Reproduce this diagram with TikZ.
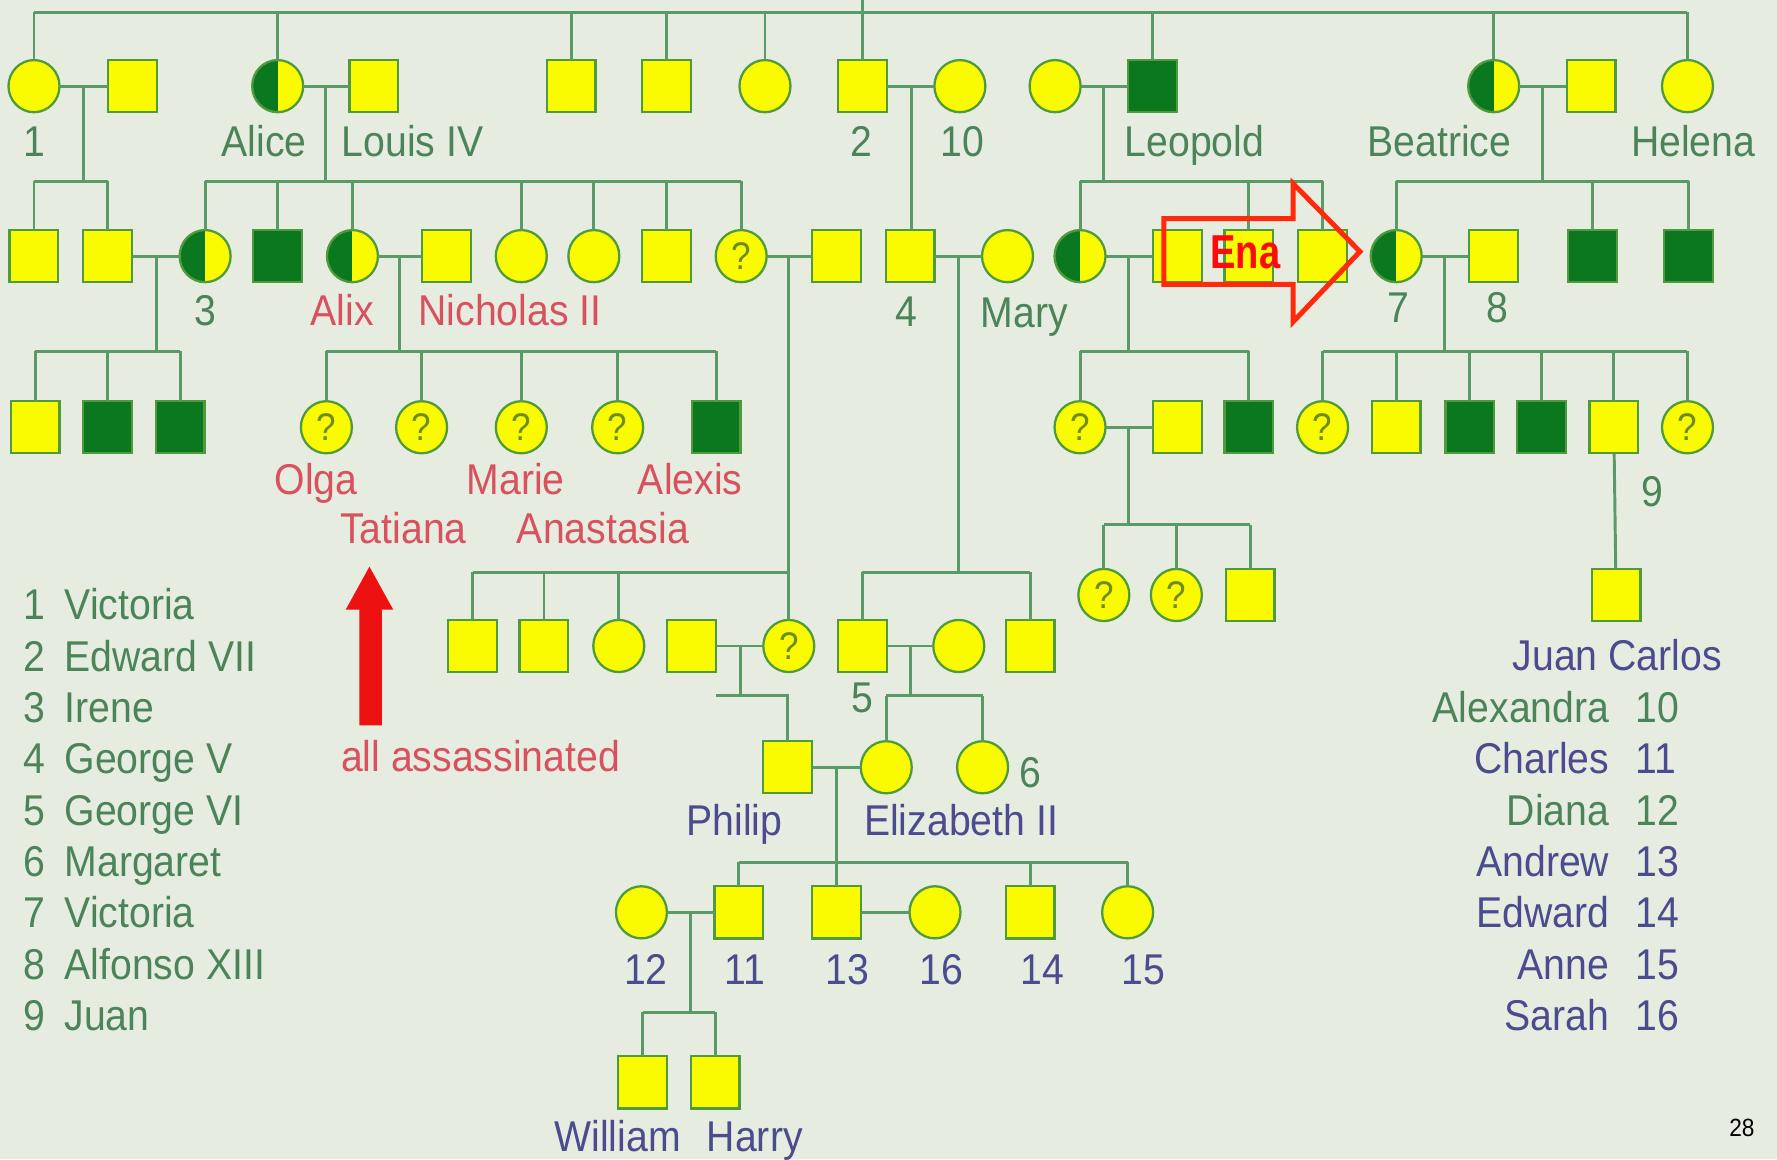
\documentclass[tikz,border=0pt]{standalone}
\usepackage{fontspec}
\setmainfont[FakeStretch=0.91]{Liberation Sans}
\newfontfamily\enafont[FakeStretch=0.8]{Liberation Sans}
\usetikzlibrary{calc,shapes.geometric}
\definecolor{bgc}{HTML}{E6EDE0}
\definecolor{linec}{HTML}{5A9A66}
\definecolor{symb}{HTML}{4E9A3C}
\definecolor{yel}{HTML}{FAFA00}
\definecolor{dkg}{HTML}{0B7820}
\definecolor{qmark}{HTML}{6E8C1E}
\definecolor{lgrn}{HTML}{4C8459}
\definecolor{lred}{HTML}{D9505E}
\definecolor{lblue}{HTML}{4B4B8F}
\definecolor{enared}{HTML}{FF2A0C}
\definecolor{enatext}{HTML}{FF0A0A}
\definecolor{arrred}{HTML}{EE1111}
\newcommand\lblsize{\fontsize{19}{22}\selectfont}
\begin{document}
\begin{tikzpicture}[x=0.5pt,y=-0.5pt,
  sym/.style={draw=symb,line width=1pt,inner sep=0pt,outer sep=0pt},
  male/.style={sym,rectangle,fill=yel,minimum width=21.5pt,minimum height=23pt},
  fem/.style={sym,ellipse,fill=yel,minimum width=22.5pt,minimum height=23pt},
  affm/.style={male,fill=dkg},
  carr/.style={fem,path picture={\fill[dkg] (path picture bounding box.south west) rectangle (path picture bounding box.north);}},
  unk/.style={fem,text=qmark,font=\fontsize{17}{17}\selectfont},
  ln/.style={draw=linec,line width=1.3pt},
  lbl/.style={inner sep=0pt,outer sep=0pt,anchor=base,font=\lblsize},
  glab/.style={lbl,text=lgrn},
  rlab/.style={lbl,text=lred},
  blab/.style={lbl,text=lblue}]

% page background
\fill[bgc] (0,0) rectangle (1568,1023);
\useasboundingbox (0,0) rectangle (1568,1023);

% ---------- generation 1 ----------
\node[fem]  (v1)   at (30,76)   {};
\node[male] (v1h)  at (117,76)  {};
\node[carr] (ali)  at (245,76)  {};
\node[male] (lou)  at (330,76)  {};
\node[male] (r1a)  at (504,76)  {};
\node[male] (r1b)  at (588,76)  {};
\node[fem]  (r1c)  at (675,76)  {};
\node[male] (ed7)  at (761,76)  {};
\node[fem]  (alx)  at (847,76)  {};
\node[fem]  (leow) at (931,76)  {};
\node[affm] (leo)  at (1017,76) {};
\node[carr] (bea)  at (1318,76) {};
\node[male] (beah) at (1404,76) {};
\node[fem]  (hel)  at (1489,76) {};

% ---------- generation 2 ----------
\node[male] (a1)   at (30,226)   {};
\node[male] (a2)   at (95,226)   {};
\node[carr] (ire)  at (181,226)  {};
\node[affm] (b2)   at (245,226)  {};
\node[carr] (alix) at (311,226)  {};
\node[male] (nic)  at (394,226)  {};
\node[fem]  (b4)   at (460,226)  {};
\node[fem]  (b5)   at (524,226)  {};
\node[male] (b6)   at (588,226)  {};
\node[unk]  (b7)   at (654,226)  {?};
\node[male] (b7h)  at (738,226)  {};
\node[male] (gv)   at (803,226)  {};
\node[fem]  (mary) at (889,226)  {};
\node[carr] (alb)  at (953,226)  {};
\node[male] (albh) at (1039,226) {};
\node[male] (c2)   at (1102,226) {};
\node[male] (c3)   at (1167,226) {};
\node[carr] (ena)  at (1232,226) {};
\node[male] (alf)  at (1318,226) {};
\node[affm] (d3)   at (1405,226) {};
\node[affm] (d4)   at (1490,226) {};

% ---------- generation 3 ----------
\node[male] (e1)   at (31,377)   {};
\node[affm] (e2)   at (95,377)   {};
\node[affm] (e3)   at (159,377)  {};
\node[unk]  (olga) at (288,377)  {?};
\node[unk]  (tat)  at (372,377)  {?};
\node[unk]  (mar)  at (460,377)  {?};
\node[unk]  (ana)  at (545,377)  {?};
\node[affm] (alexis) at (632,377) {};
\node[unk]  (f1)   at (953,377)  {?};
\node[male] (f1h)  at (1039,377) {};
\node[affm] (f3)   at (1102,377) {};
\node[unk]  (g1)   at (1167,377) {?};
\node[male] (g2)   at (1232,377) {};
\node[affm] (g3)   at (1297,377) {};
\node[affm] (g4)   at (1360,377) {};
\node[male] (juan) at (1424,377) {};
\node[unk]  (g6)   at (1489,377) {?};

% ---------- generation 4 ----------
\node[male] (h1)   at (417,570) {};
\node[male] (h2)   at (480,570) {};
\node[fem]  (h3)   at (546,570) {};
\node[male] (h4h)  at (610,570) {};
\node[unk]  (h4)   at (696,570) {?};
\node[male] (g6r)  at (761,570) {};
\node[fem]  (eliz) at (846,570) {};
\node[male] (h7)   at (909,570) {};
\node[unk]  (k1)   at (974,525)  {?};
\node[unk]  (k2)   at (1038,525) {?};
\node[male] (k3)   at (1103,525) {};
\node[male] (jc)   at (1426,525) {};

% ---------- generation 5 ----------
\node[male] (phil) at (695,677) {};
\node[fem]  (e2q)  at (782,677) {};
\node[fem]  (marg) at (867,677) {};

% ---------- generation 6 ----------
\node[fem]  (dia)  at (566,805) {};
\node[male] (cha)  at (652,805) {};
\node[male] (andr) at (738,805) {};
\node[fem]  (sar)  at (825,805) {};
\node[male] (edw)  at (909,805) {};
\node[fem]  (ann)  at (995,805) {};
\node[male] (wil)  at (567,955) {};
\node[male] (har)  at (631,955) {};

% ---------- sibship levels ----------
\coordinate (topy) at (0,11);
\coordinate (edge) at (761,0);
\coordinate (sA) at (0,160);
\coordinate (sB) at (0,310);
\coordinate (sC) at (0,505);
\coordinate (sD) at (0,463);
\coordinate (sE) at (0,614);
\coordinate (sF) at (0,761);
\coordinate (sG) at (0,893);
\coordinate (stub) at (632,614);

% Victoria's children
\draw[ln] (v1.north |- topy) -- (hel.north |- topy);
\foreach \k in {v1,ali,r1a,r1b,r1c,leo,bea,hel}
  \draw[ln] (\k.north |- topy) -- (\k.north);
\draw[ln] (edge) -- (ed7.north);

% couple 1
\draw[ln] (v1) -- (v1h);
\coordinate (jv1) at ($(v1)!0.5!(v1h)$);
\draw[ln] (jv1) -- (jv1 |- sA);
\draw[ln] (a1.north |- sA) -- (a2.north |- sA);
\foreach \k in {a1,a2} \draw[ln] (\k.north |- sA) -- (\k.north);

% Alice and Louis IV
\draw[ln] (ali) -- (lou);
\coordinate (jali) at ($(ali)!0.5!(lou)$);
\draw[ln] (jali) -- (jali |- sA);
\draw[ln] (ire.north |- sA) -- (b7.north |- sA);
\foreach \k in {ire,b2,alix,b4,b5,b6,b7} \draw[ln] (\k.north |- sA) -- (\k.north);

% Irene
\draw[ln] (a2) -- (ire);
\coordinate (jire) at ($(a2)!0.5!(ire)$);
\draw[ln] (jire) -- (jire |- sB);
\draw[ln] (e1.north |- sB) -- (e3.north |- sB);
\foreach \k in {e1,e2,e3} \draw[ln] (\k.north |- sB) -- (\k.north);

% Alix and Nicholas II
\draw[ln] (alix) -- (nic);
\coordinate (jalix) at ($(alix)!0.5!(nic)$);
\draw[ln] (jalix) -- (jalix |- sB);
\draw[ln] (olga.north |- sB) -- (alexis.north |- sB);
\foreach \k in {olga,tat,mar,ana,alexis} \draw[ln] (\k.north |- sB) -- (\k.north);

% Philip's grandparents
\draw[ln] (b7) -- (b7h);
\coordinate (jb7) at ($(b7)!0.5!(b7h)$);
\draw[ln] (jb7) -- (jb7 |- h4.north);
\draw[ln] (h1.north |- sC) -- (h4.north |- sC);
\foreach \k in {h1,h2,h3} \draw[ln] (\k.north |- sC) -- (\k.north);

% Edward VII
\draw[ln] (ed7) -- (alx);
\coordinate (jed) at ($(ed7)!0.5!(alx)$);
\draw[ln] (jed) -- (jed |- gv.north);

% George V and Mary
\draw[ln] (gv) -- (mary);
\coordinate (jgv) at ($(gv)!0.5!(mary)$);
\draw[ln] (jgv) -- (jgv |- sC);
\draw[ln] (g6r.north |- sC) -- (h7.north |- sC);
\foreach \k in {g6r,h7} \draw[ln] (\k.north |- sC) -- (\k.north);

% Philip's parents
\draw[ln] (h4h) -- (h4);
\coordinate (jh4) at ($(h4h)!0.5!(h4)$);
\draw[ln] (jh4) -- (jh4 |- sE);
\draw[ln] (stub) -- (phil.north |- sE) -- (phil.north);

% George VI
\draw[ln] (g6r) -- (eliz);
\coordinate (jg6) at ($(g6r)!0.5!(eliz)$);
\draw[ln] (jg6) -- (jg6 |- sE);
\draw[ln] (e2q.north |- sE) -- (marg.north |- sE);
\foreach \k in {e2q,marg} \draw[ln] (\k.north |- sE) -- (\k.north);

% Philip and Elizabeth II
\draw[ln] (phil) -- (e2q);
\coordinate (jph) at ($(phil)!0.5!(e2q)$);
\draw[ln] (jph) -- (jph |- andr.north);
\draw[ln] (cha.north |- sF) -- (ann.north |- sF);
\foreach \k in {cha,edw,ann} \draw[ln] (\k.north |- sF) -- (\k.north);

% Charles and Diana
\draw[ln] (dia) -- (cha);
\coordinate (jcha) at ($(dia)!0.5!(cha)$);
\draw[ln] (jcha) -- (jcha |- sG);
\draw[ln] (wil.north |- sG) -- (har.north |- sG);
\foreach \k in {wil,har} \draw[ln] (\k.north |- sG) -- (\k.north);

% Andrew and Sarah
\draw[ln] (andr) -- (sar);

% Leopold
\draw[ln] (leow) -- (leo);
\coordinate (jleo) at ($(leow)!0.5!(leo)$);
\draw[ln] (jleo) -- (jleo |- sA);
\draw[ln] (alb.north |- sA) -- (c3.north |- sA);
\foreach \k in {alb,c2,c3} \draw[ln] (\k.north |- sA) -- (\k.north);

\draw[ln] (alb) -- (albh);
\coordinate (jalb) at ($(alb)!0.5!(albh)$);
\draw[ln] (jalb) -- (jalb |- sB);
\draw[ln] (f1.north |- sB) -- (f3.north |- sB);
\foreach \k in {f1,f3} \draw[ln] (\k.north |- sB) -- (\k.north);

\draw[ln] (f1) -- (f1h);
\coordinate (jf1) at ($(f1)!0.5!(f1h)$);
\draw[ln] (jf1) -- (jf1 |- sD);
\draw[ln] (k1.north |- sD) -- (k3.north |- sD);
\foreach \k in {k1,k2,k3} \draw[ln] (\k.north |- sD) -- (\k.north);

% Beatrice
\draw[ln] (bea) -- (beah);
\coordinate (jbea) at ($(bea)!0.5!(beah)$);
\draw[ln] (jbea) -- (jbea |- sA);
\draw[ln] (ena.north |- sA) -- (d4.north |- sA);
\foreach \k in {ena,d3,d4} \draw[ln] (\k.north |- sA) -- (\k.north);

% Victoria Eugenie and Alfonso XIII
\draw[ln] (ena) -- (alf);
\coordinate (jena) at ($(ena)!0.5!(alf)$);
\draw[ln] (jena) -- (jena |- sB);
\draw[ln] (g1.north |- sB) -- (g6.north |- sB);
\foreach \k in {g1,g2,g3,g4,juan,g6} \draw[ln] (\k.north |- sB) -- (\k.north);
\draw[ln] (juan) -- (jc);

% ---------- labels ----------
\node[glab] (t1)   at (30,138)   {1};
\node[glab] (tali) at (233,138)  {Alice};
\node[glab] (tlou) at (364,138)  {Louis IV};
\node[glab] (t2)   at (760,138)  {2};
\node[glab] (t10)  at (849,138)  {10};
\node[glab] (tleo) at (1054,138) {Leopold};
\node[glab] (tbea) at (1270,138) {Beatrice};
\node[glab] (thel) at (1494,138) {Helena};

\node[glab] (t3)    at (181,287)  {3};
\node[rlab] (talix) at (302,287)  {Alix};
\node[rlab] (tnic)  at (450,287)  {Nicholas II};
\node[glab] (t4)    at (800,288)  {4};
\node[glab] (tmary) at (904,289)  {Mary};
\node[glab] (t7)    at (1234,285) {7};
\node[glab] (t8)    at (1321,285) {8};

\node[rlab] (tolga) at (279,436) {Olga};
\node[rlab] (tmar)  at (455,436) {Marie};
\node[rlab] (talex) at (609,436) {Alexis};
\node[rlab] (ttat)  at (356,480) {Tatiana};
\node[rlab] (tana)  at (532,480) {Anastasia};
\node[glab] (t9)    at (1458,447) {9};
\node[rlab] (tall)  at (424,681) {all assassinated};

\node[glab] (t5)    at (761,629) {5};
\node[glab] (t6)    at (909,695) {6};
\node[blab] (tphil) at (648,737) {Philip};
\node[blab] (teliz) at (848,737) {Elizabeth II};

\node[blab] (t12) at (570,869)  {12};
\node[blab] (t11) at (657,869)  {11};
\node[blab] (t13) at (748,869)  {13};
\node[blab] (t16) at (831,869)  {16};
\node[blab] (t14) at (920,869)  {14};
\node[blab] (t15) at (1009,869) {15};
\node[blab] (twil) at (545,1016) {William};
\node[blab] (thar) at (666,1016) {Harry};

% numbered key, left
\foreach \n/\t [count=\i] in {1/Victoria,2/Edward VII,3/Irene,4/George V,5/George VI,6/Margaret,7/Victoria,8/Alfonso XIII,9/Juan}{
  \node[glab,anchor=base east] (kn\i) at (40,{547+45.3*(\i-1)}) {\n};
  \node[glab,anchor=base west] (kt\i) at (57,{547+45.3*(\i-1)}) {\t};
}

% numbered key, right
\node[blab] (tjc) at (1427,592) {Juan Carlos};
\foreach \t/\n/\c [count=\i] in {Alexandra/10/lgrn,Charles/11/lblue,Diana/12/lgrn,Andrew/13/lblue,Edward/14/lblue,Anne/15/lblue,Sarah/16/lblue}{
  \node[lbl,text=\c,anchor=base east] (rt\i) at (1420,{547+45.3*(\i+1)}) {\t};
  \node[lbl,text=\c,anchor=base west] (rn\i) at (1443,{547+45.3*(\i+1)}) {\n};
}

% red pointer to the Romanov children
\fill[arrred] (317,640) -- (317,538) -- (305,538) -- (326,500) -- (347,538) -- (337,538) -- (337,640) -- cycle;

% outlined arrow marking Ena
\draw[enared,line width=2.2pt,line join=miter] (1027,193) -- (1141,193) -- (1141,162) -- (1200,222) -- (1141,284) -- (1141,251) -- (1027,251) -- cycle;
\node[inner sep=0pt,text=enatext,font=\enafont\bfseries\fontsize{21}{22}\selectfont] (tena) at (1099,223) {Ena};

% page number
\node[inner sep=0pt,anchor=base,font=\fontsize{11}{12}\selectfont] (pg) at (1537,1003) {28};
\end{tikzpicture}
\end{document}
